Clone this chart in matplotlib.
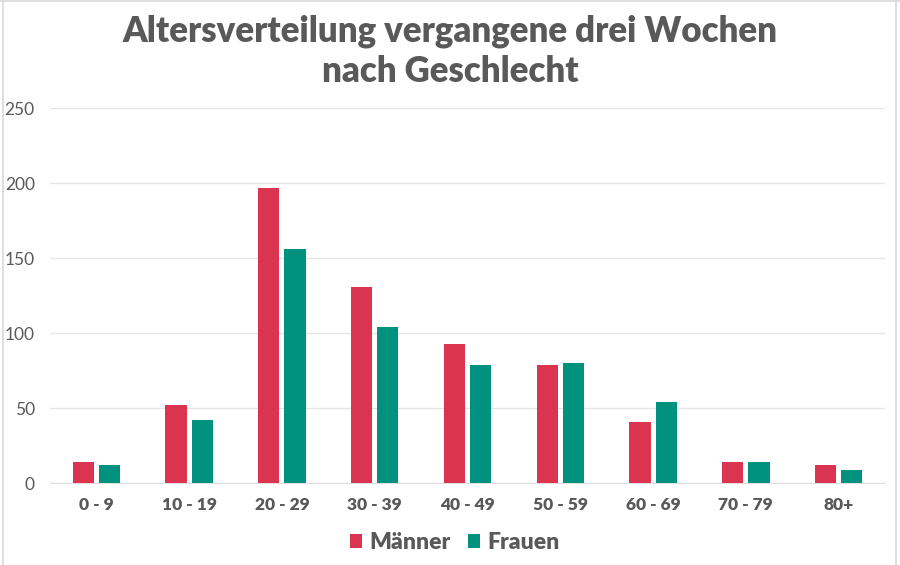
import numpy as np
import matplotlib
matplotlib.use("Agg")
import matplotlib.pyplot as plt
from matplotlib.lines import Line2D

plt.rcParams['font.family'] = ['Lato', 'DejaVu Sans']

# Data
age_groups = ['0 - 9', '10 - 19', '20 - 29', '30 - 39', '40 - 49',
              '50 - 59', '60 - 69', '70 - 79', '80+']
maenner = [14, 52, 197, 131, 93, 79, 41, 14, 12]
frauen = [12, 42, 156, 104, 79, 80, 54, 14, 9]

red = '#DA3450'
teal = '#00927F'
gray = '#595959'

fig = plt.figure(figsize=(9, 5.65), dpi=100)
ax = fig.add_axes([50 / 900, 1 - 483.3 / 565, 835 / 900, (483.3 - 108.3) / 565])

x = np.arange(len(age_groups))
w = 0.228
gap = 0.055
ax.bar(x - (w + gap) / 2, maenner, w, color=red, label='Männer', zorder=3)
ax.bar(x + (w + gap) / 2, frauen, w, color=teal, label='Frauen', zorder=3)

ax.set_xlim(-0.5, len(age_groups) - 0.5)
ax.set_ylim(0, 250)
ax.set_yticks(range(0, 251, 50))
ax.set_xticks(x)
ax.set_xticklabels(age_groups, fontsize=12.5, fontweight='heavy', color=gray)
ax.tick_params(axis='y', labelsize=12.5, labelcolor=gray, length=0, pad=11)
ax.tick_params(axis='x', length=0, pad=10)
ax.grid(axis='y', color='#E6E6E6', linewidth=1, zorder=0)
for s in ['top', 'right', 'left']:
    ax.spines[s].set_visible(False)
ax.spines['bottom'].set_color('#E0E0E0')

fig.text(0.5, 1 - 82 / 565, 'Altersverteilung vergangene drei Wochen\nnach Geschlecht',
         ha='center', va='baseline', fontsize=25, fontweight='heavy', color=gray,
         linespacing=1.25)

ax.legend(loc='upper center', bbox_to_anchor=(0.4845, -0.075), ncol=2, frameon=False,
          prop={'size': 16.5, 'weight': 'heavy'}, labelcolor=gray,
          handlelength=0.55, handleheight=0.55, handletextpad=0.3, columnspacing=0.75)

# thin frame around the image
for coords in [([0.003, 0.003], [0, 1]), ([0.995, 0.995], [0, 1]), ([0, 1], [0.999, 0.999])]:
    fig.add_artist(Line2D(coords[0], coords[1], color='#D9D9D9', linewidth=1.2,
                          transform=fig.transFigure))

fig.savefig('out.png', dpi=100, facecolor='white')
